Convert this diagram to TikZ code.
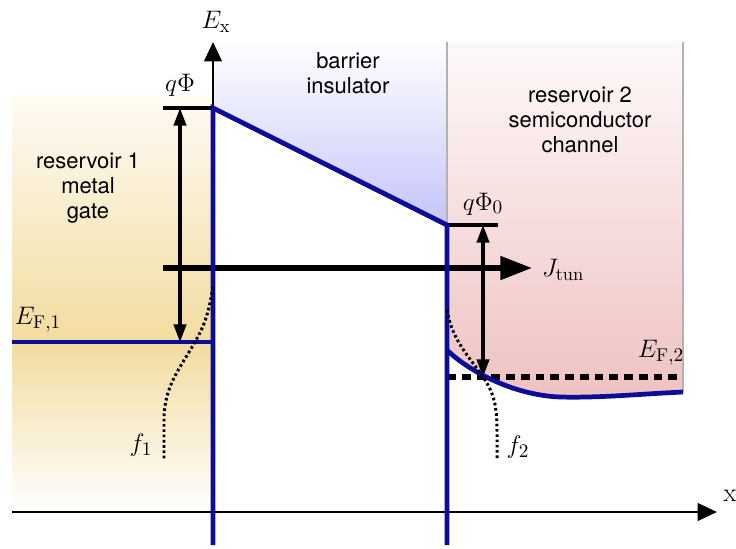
\documentclass[tikz,border=0pt]{standalone}
\usepackage{amsmath,amssymb}
\usepackage{fontspec}
\setsansfont{TeX Gyre Heros}
\usetikzlibrary{arrows.meta}

\definecolor{bandblue}{RGB}{12,12,150}
\definecolor{gatecol}{RGB}{243,220,160}
\definecolor{barcol}{RGB}{196,196,250}
\definecolor{chancol}{RGB}{239,194,194}

\tikzset{
  band/.style={bandblue, line width=2.7pt},
  region/.style={font=\sffamily\fontsize{12.5}{14.2}\selectfont, align=center},
  lbl/.style={font=\fontsize{15}{17}\selectfont, inner sep=1pt},
  fermi/.style={line width=1.7pt, dash pattern=on 1.5pt off 1.5pt},
}

\begin{document}
\begin{tikzpicture}[>=Stealth, x=0.02cm, y=-0.02cm]
  \useasboundingbox (0,0) rectangle (736,548);
  \def\vtip{Triangle[length=10pt,width=7pt]}
  % corners of the band diagram
  \coordinate (bl) at (213,108);
  \coordinate (br) at (447,225);
  \coordinate (cb) at (447,350);
  \coordinate (ef1) at (12,342);
  \coordinate (ef1r) at (213,342);
  \coordinate (ef2) at (447,377);
  \coordinate (ef2r) at (683,377);
  % reservoir 1, gate
  \shade[top color=gatecol!12, bottom color=gatecol] (12,95) rectangle (213,342);
  \shade[top color=gatecol, bottom color=white] (12,342) rectangle (213,512);
  % barrier
  \shade[top color=white, bottom color=barcol] (213,42) -- (447,42) -- (br) -- (bl) -- cycle;
  % reservoir 2, channel
  \shade[top color=chancol!10, bottom color=chancol]
    (447,42) -- (683,42) -- (683,392) .. controls (640,394) and (600,398) .. (560,397)
    .. controls (510,395) and (465,368) .. (cb) -- cycle;
  \draw[black!30, line width=0.6pt] (447,42) -- (br);
  \draw[black!30, line width=0.6pt] (683,42) -- (683,392);
  % axes
  \draw[-{Triangle[length=11pt,width=10pt]}, line width=1.3pt] (12,512) -- (717,512);
  \draw[-{Triangle[length=11pt,width=10pt]}, line width=1.4pt] (213,512) -- (213,42);
  \node[lbl] (ex) at (216,22) {$E_{\mathrm{x}}$};
  \node[lbl] (xlab) at (730,496) {$\mathrm{x}$};
  % barrier heights
  \draw[line width=2pt] (163,108) -- (bl);
  \draw[{\vtip}-{\vtip}, line width=1.8pt] (180,108) -- (180,342);
  \node[lbl] (qphi) at (180,85) {$q\Phi$};
  \draw[line width=2pt] (br) -- (498,225);
  \draw[{\vtip}-{\vtip}, line width=1.8pt] (483,225) -- (483,377);
  \node[lbl] (qphi0) at (483,204) {$q\Phi_0$};
  % tunnel current
  \coordinate (jstart) at (163,268);
  \coordinate (jend) at (532,268);
  \draw[-{Triangle[length=18pt,width=13pt]}, line width=3pt] (jstart) -- (jend);
  \node[lbl, anchor=west] (jtun) at (540,270) {$J_{\mathrm{tun}}$};
  % Fermi levels
  \draw[line width=3pt, dash pattern=on 5pt off 3.4pt] (ef2) -- (ef2r);
  \node[lbl] (ef2lbl) at (661,353) {$E_{\mathrm{F},2}$};
  \draw[band] (ef1) -- (ef1r);
  \node[lbl] (ef1lbl) at (38,320) {$E_{\mathrm{F},1}$};
  % band edges
  \draw[band] (213,545) -- (bl) -- (br) -- (447,545);
  \draw[band] (cb) .. controls (465,368) and (510,395) .. (560,397)
    .. controls (600,398) and (640,394) .. (683,392);
  % occupation functions
  \draw[fermi] (213,287) to[out=-100,in=60] (195,342) to[out=-120,in=90] (164,420) -- (164,460);
  \node[lbl] (f1) at (141,445) {$f_1$};
  \draw[fermi] (447,310) to[out=-80,in=125] (483,377) to[out=-55,in=90] (497,440) -- (497,460);
  \node[lbl] (f2) at (518,447) {$f_2$};
  % region labels
  \node[region] (gate) at (88,188) {reservoir 1\\metal\\gate};
  \node[region] (barr) at (348,73) {barrier\\insulator};
  \node[region] (chan) at (580,120) {reservoir 2\\semiconductor\\channel};
\end{tikzpicture}
\end{document}
